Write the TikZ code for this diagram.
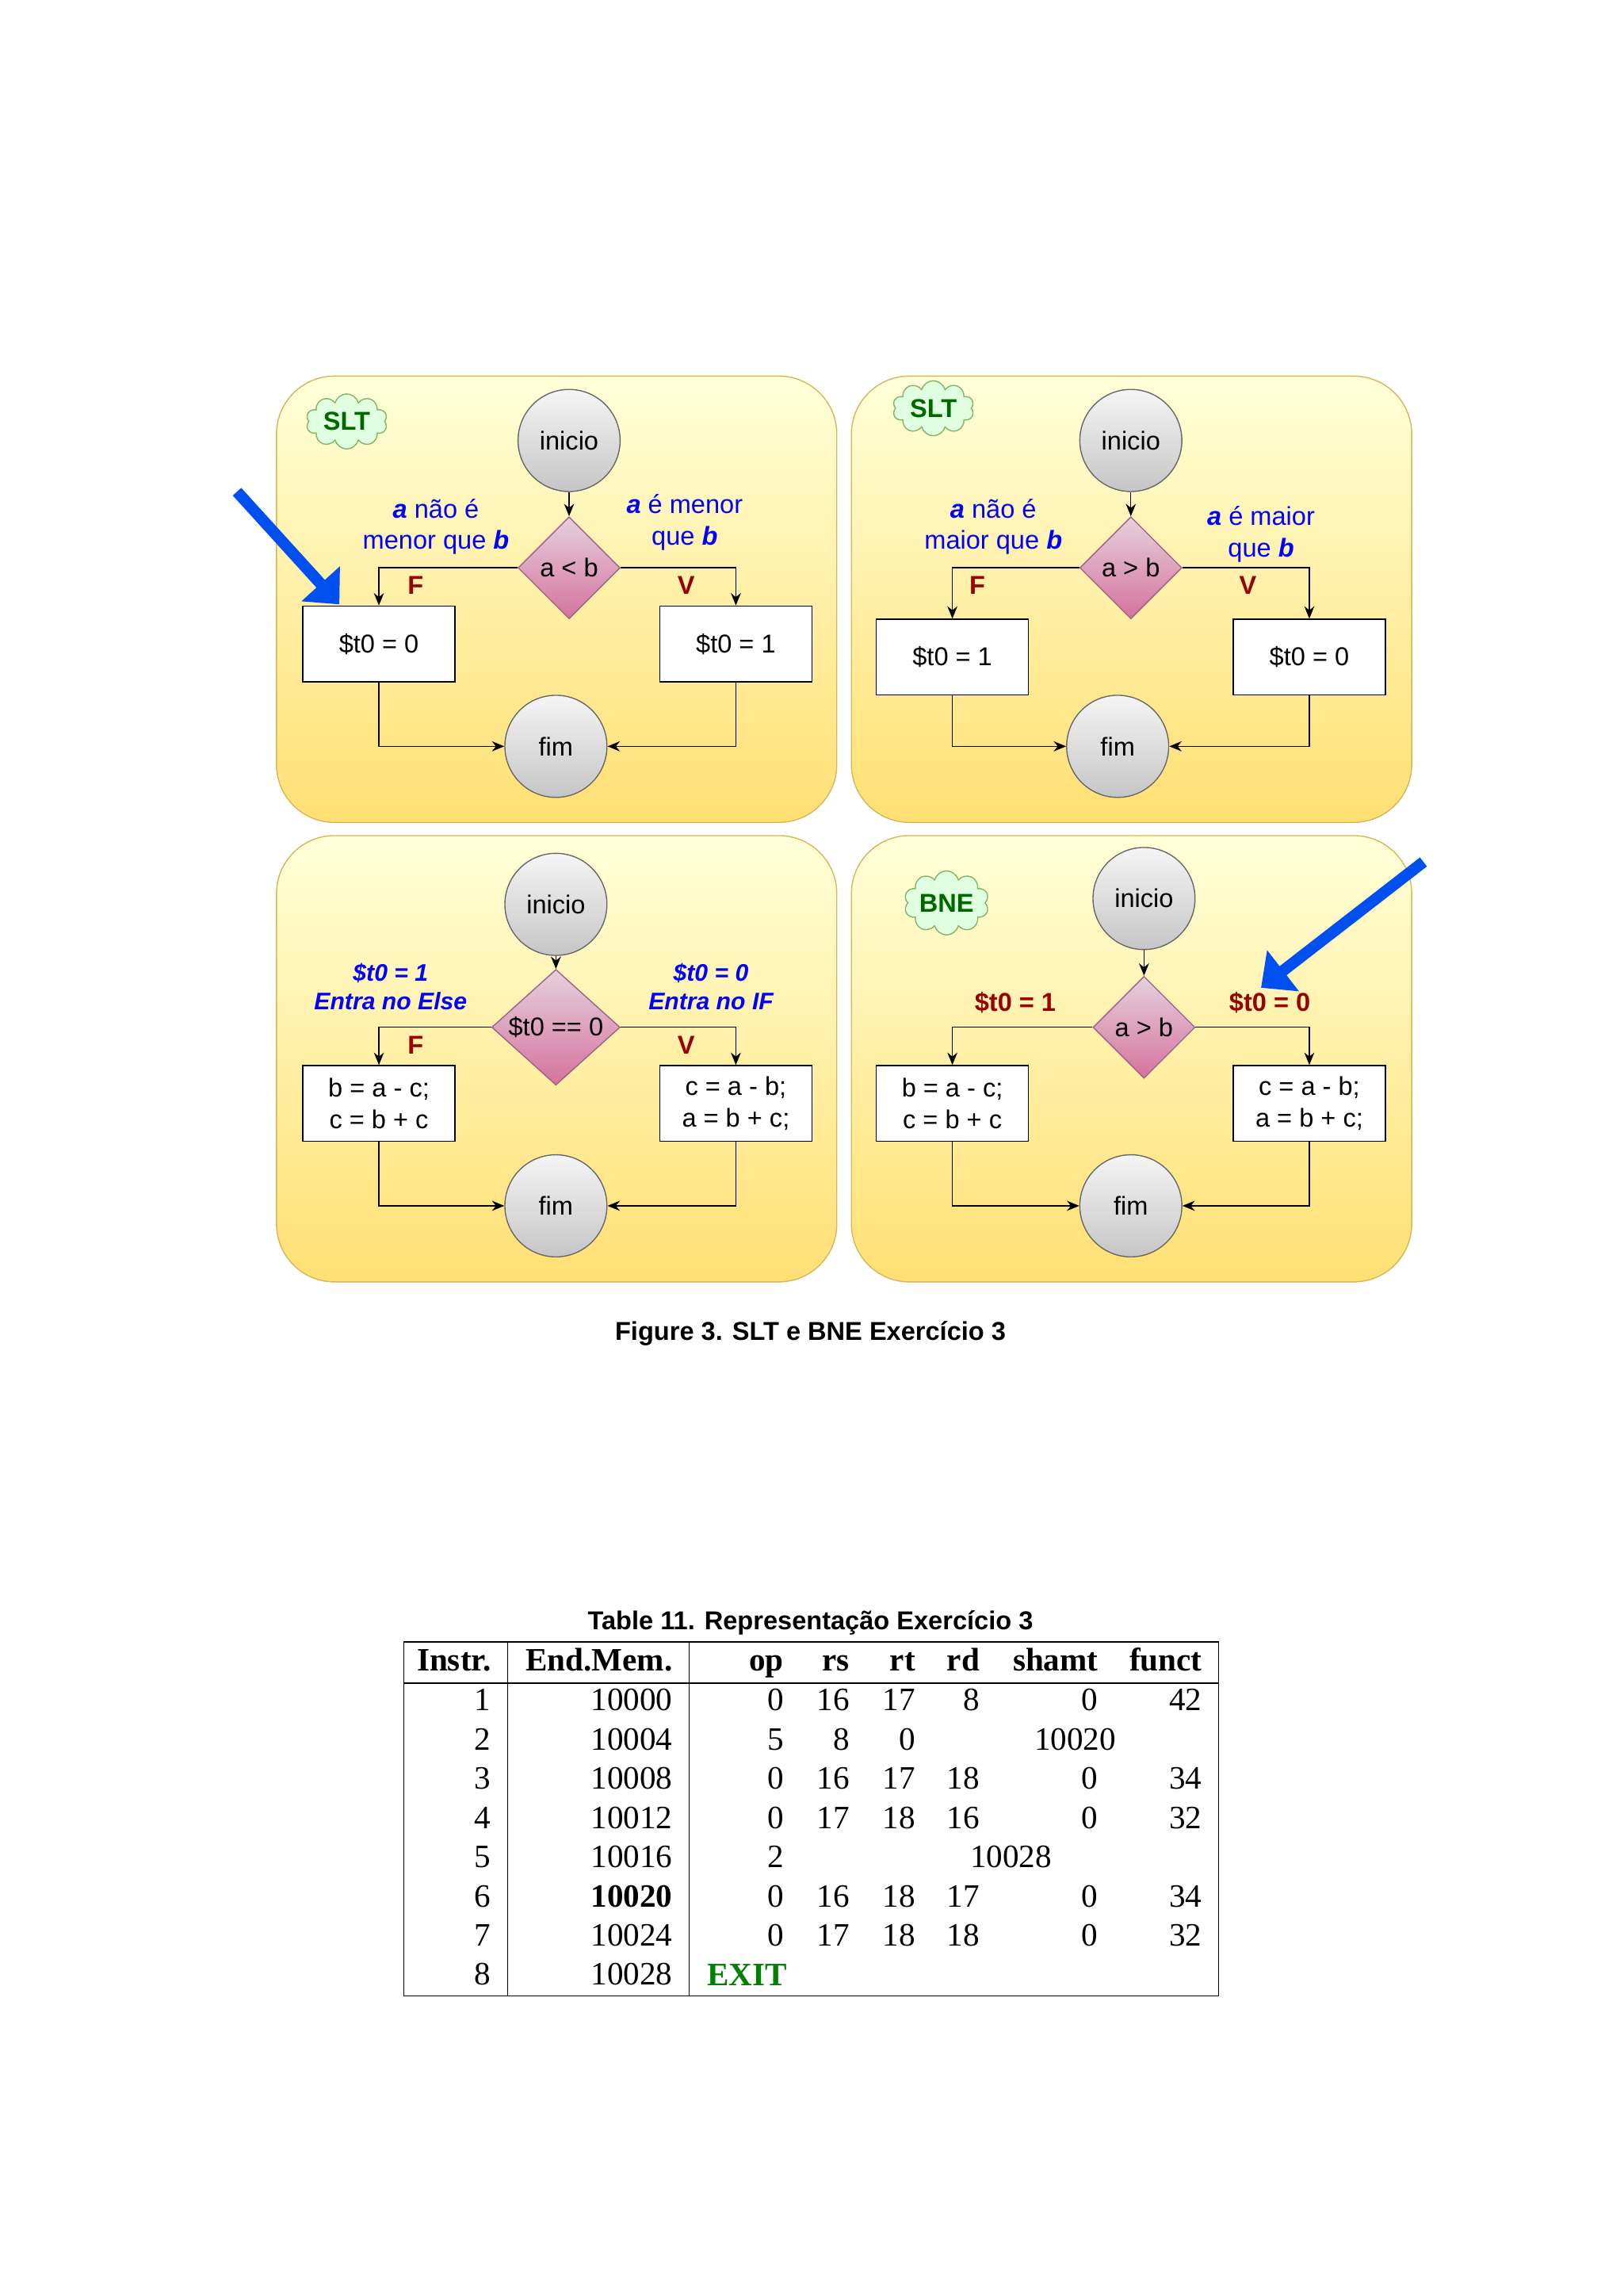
\documentclass[tikz,border=0pt]{standalone}
\usepackage{fontspec}
\setmainfont{Liberation Sans}
\newfontfamily\tabfont{Liberation Serif}
\usetikzlibrary{shapes.geometric,shapes.symbols,arrows.meta}
\definecolor{panelborder}{HTML}{D6B656}
\definecolor{circborder}{HTML}{666666}
\definecolor{diaborder}{HTML}{996185}
\definecolor{diatop}{HTML}{E6D0DE}
\definecolor{diabottom}{HTML}{D5739D}
\definecolor{condred}{HTML}{990000}
\definecolor{tagline}{HTML}{82B366}
\definecolor{taggreen}{HTML}{006600}
\definecolor{arrowblue}{HTML}{0050EF}
\tikzset{
  panel/.style={rounded corners=0.75cm, draw=panelborder, top color=yellow!15!white, bottom color=yellow!55!orange!55!white},
  startend/.style={circle, draw=circborder, top color=gray!8, bottom color=gray!45, minimum size=1.32cm, inner sep=0pt, font=\fontsize{9.5}{11}\selectfont},
  decision/.style={diamond, draw=diaborder, top color=diatop, bottom color=diabottom, minimum width=1.32cm, minimum height=1.32cm, inner sep=0pt, font=\fontsize{9.5}{11}\selectfont},
  process/.style={rectangle, draw, fill=white, minimum width=1.97cm, minimum height=0.98cm, align=center, font=\fontsize{9.5}{11.5}\selectfont},
  tag/.style={cloud, cloud puffs=10, aspect=1.6, draw=tagline, fill=green!12, minimum width=1.05cm, minimum height=0.62cm, inner sep=0pt, text=taggreen, font=\bfseries\fontsize{9.5}{11}\selectfont},
  branch/.style={text=condred, font=\bfseries\fontsize{9.5}{11}\selectfont},
  note/.style={text=blue, align=center, font=\fontsize{9.5}{11.5}\selectfont},
  flow/.style={-{Stealth[length=1.6mm,width=1.3mm]}, thin},
  pointer/.style={draw=arrowblue, line width=4.2pt, -{Triangle[length=3.6mm,width=6.5mm]}},
  cell/.style={font=\tabfont\fontsize{12}{13}\selectfont, inner sep=0pt},
}
\newcommand{\ab}[1]{\textbf{\textit{#1}}}
\begin{document}
\begin{tikzpicture}[x=0.018919cm, y=-0.018919cm]
\fill[white] (0,0) rectangle (1110,1569);
\useasboundingbox (0,0) rectangle (1110,1569);

% panels
\draw[panel] (189,257) rectangle (572,562);
\draw[panel] (582,257) rectangle (965,562);
\draw[panel] (189,571) rectangle (572,876);
\draw[panel] (582,571) rectangle (965,876);

% SLT, a < b
\node[tag] (tagA) at (237,288) {SLT};
\node[startend] (iniA) at (389,301) {inicio};
\node[decision] (decA) at (389,388) {a < b};
\node[process] (noA) at (259,440) {\$t0 = 0};
\node[process] (yesA) at (503,440) {\$t0 = 1};
\node[startend] (fimA) at (380,510) {fim};
\node[branch] (fA) at (284,400) {F};
\node[branch] (vA) at (469,400) {V};
\node[note] (txtA1) at (298,360) {\ab{a} não é\\menor que \ab{b}};
\node[note] (txtA2) at (468,357) {\ab{a} é menor\\que \ab{b}};
\draw[flow] (iniA) -- (decA);
\draw[flow] (decA.west) -| (noA.north);
\draw[flow] (decA.east) -| (yesA.north);
\draw[flow] (noA.south) |- (fimA.west);
\draw[flow] (yesA.south) |- (fimA.east);

% SLT, a > b
\node[tag] (tagB) at (638,279) {SLT};
\node[startend] (iniB) at (773,301) {inicio};
\node[decision] (decB) at (773,388) {a > b};
\node[process] (noB) at (651,449) {\$t0 = 1};
\node[process] (yesB) at (895,449) {\$t0 = 0};
\node[startend] (fimB) at (764,510) {fim};
\node[branch] (fB) at (668,400) {F};
\node[branch] (vB) at (853,400) {V};
\node[note] (txtB1) at (679,360) {\ab{a} não é\\maior que \ab{b}};
\node[note] (txtB2) at (862,365) {\ab{a} é maior\\que \ab{b}};
\draw[flow] (iniB) -- (decB);
\draw[flow] (decB.west) -| (noB.north);
\draw[flow] (decB.east) -| (yesB.north);
\draw[flow] (noB.south) |- (fimB.west);
\draw[flow] (yesB.south) |- (fimB.east);

% $t0 == 0
\node[startend] (iniC) at (380,618) {inicio};
\node[decision, minimum width=1.66cm] (decC) at (380,702) {\$t0 == 0};
\node[process] (noC) at (259,754) {b = a - c;\\c = b + c};
\node[process] (yesC) at (503,754) {c = a - b;\\a = b + c;};
\node[startend] (fimC) at (380,824) {fim};
\node[branch] (fC) at (284,714) {F};
\node[branch] (vC) at (469,714) {V};
\node[note, font=\bfseries\itshape\fontsize{8.8}{10.5}\selectfont] (txtC1) at (267,674) {\$t0 = 1\\Entra no Else};
\node[note, font=\bfseries\itshape\fontsize{8.8}{10.5}\selectfont] (txtC2) at (486,674) {\$t0 = 0\\Entra no IF};
\draw[flow] (iniC) -- (decC);
\draw[flow] (decC.west) -| (noC.north);
\draw[flow] (decC.east) -| (yesC.north);
\draw[flow] (noC.south) |- (fimC.west);
\draw[flow] (yesC.south) |- (fimC.east);

% BNE
\node[tag] (tagD) at (647,617) {BNE};
\node[startend] (iniD) at (782,614) {inicio};
\node[decision] (decD) at (782,702) {a > b};
\node[process] (noD) at (651,754) {b = a - c;\\c = b + c};
\node[process] (yesD) at (895,754) {c = a - b;\\a = b + c;};
\node[startend] (fimD) at (773,824) {fim};
\node[branch] (fD) at (694,685) {\$t0 = 1};
\node[branch] (vD) at (868,685) {\$t0 = 0};
\draw[flow] (iniD) -- (decD);
\draw[flow] (decD.west) -| (noD.north);
\draw[flow] (decD.east) -| (yesD.north);
\draw[flow] (noD.south) |- (fimD.west);
\draw[flow] (yesD.south) |- (fimD.east);

% pointers
\coordinate (ptrA) at (162,336);
\coordinate (tipA) at (232,413);
\coordinate (ptrB) at (973,589);
\coordinate (tipB) at (862,675);
\draw[pointer] (ptrA) -- (tipA);
\draw[pointer] (ptrB) -- (tipB);

\node[font=\bfseries\fontsize{9.5}{11}\selectfont] (figcap) at (554,911) {Figure 3. SLT e BNE Exercício 3};

% table
\node[font=\bfseries\fontsize{9.5}{11}\selectfont] (tabcap) at (554,1109) {Table 11. Representação Exercício 3};
\draw[thin] (276,1122) rectangle (833,1364);
\draw[semithick] (276,1150) -- (833,1150);
\draw[thin] (347,1122) -- (347,1364);
\draw[thin] (471,1122) -- (471,1364);
\foreach \txt/\xx [count=\i] in {Instr./336, End.Mem./460, op/536, rs/581, rt/626, rd/670, shamt/751, funct/822}
  \node[cell, anchor=base east, font=\tabfont\bfseries\fontsize{12}{13}\selectfont] (head\i) at (\xx,1142) {\txt};
\foreach \n/\adr/\op/\rs/\rt/\rd/\sh/\fn [count=\r] in {
  1/10000/0/16/17/8/0/42, 2/10004/5/8/0/{}/{}/{}, 3/10008/0/16/17/18/0/34,
  4/10012/0/17/18/16/0/32, 5/10016/2/{}/{}/{}/{}/{}, 6/\textbf{10020}/0/16/18/17/0/34,
  7/10024/0/17/18/18/0/32, 8/10028/{}/{}/{}/{}/{}/{}}{
  \pgfmathsetmacro{\yy}{1169+26.8*(\r-1)}
  \node[cell, anchor=base east] (n\r) at (336,\yy) {\n};
  \node[cell, anchor=base east] (adr\r) at (460,\yy) {\adr};
  \node[cell, anchor=base east] (op\r) at (536,\yy) {\op};
  \node[cell, anchor=base east] (rs\r) at (581,\yy) {\rs};
  \node[cell, anchor=base east] (rt\r) at (626,\yy) {\rt};
  \node[cell, anchor=base east] (rd\r) at (670,\yy) {\rd};
  \node[cell, anchor=base east] (sh\r) at (751,\yy) {\sh};
  \node[cell, anchor=base east] (fn\r) at (822,\yy) {\fn};
}
\node[cell, anchor=base] (imm2) at (735,1196) {10020};
\node[cell, anchor=base] (imm5) at (691,1276) {10028};
\node[cell, anchor=base west, text=green!50!black, font=\tabfont\bfseries\fontsize{12}{13}\selectfont] (exit) at (483,1357) {EXIT};
\end{tikzpicture}
\end{document}
